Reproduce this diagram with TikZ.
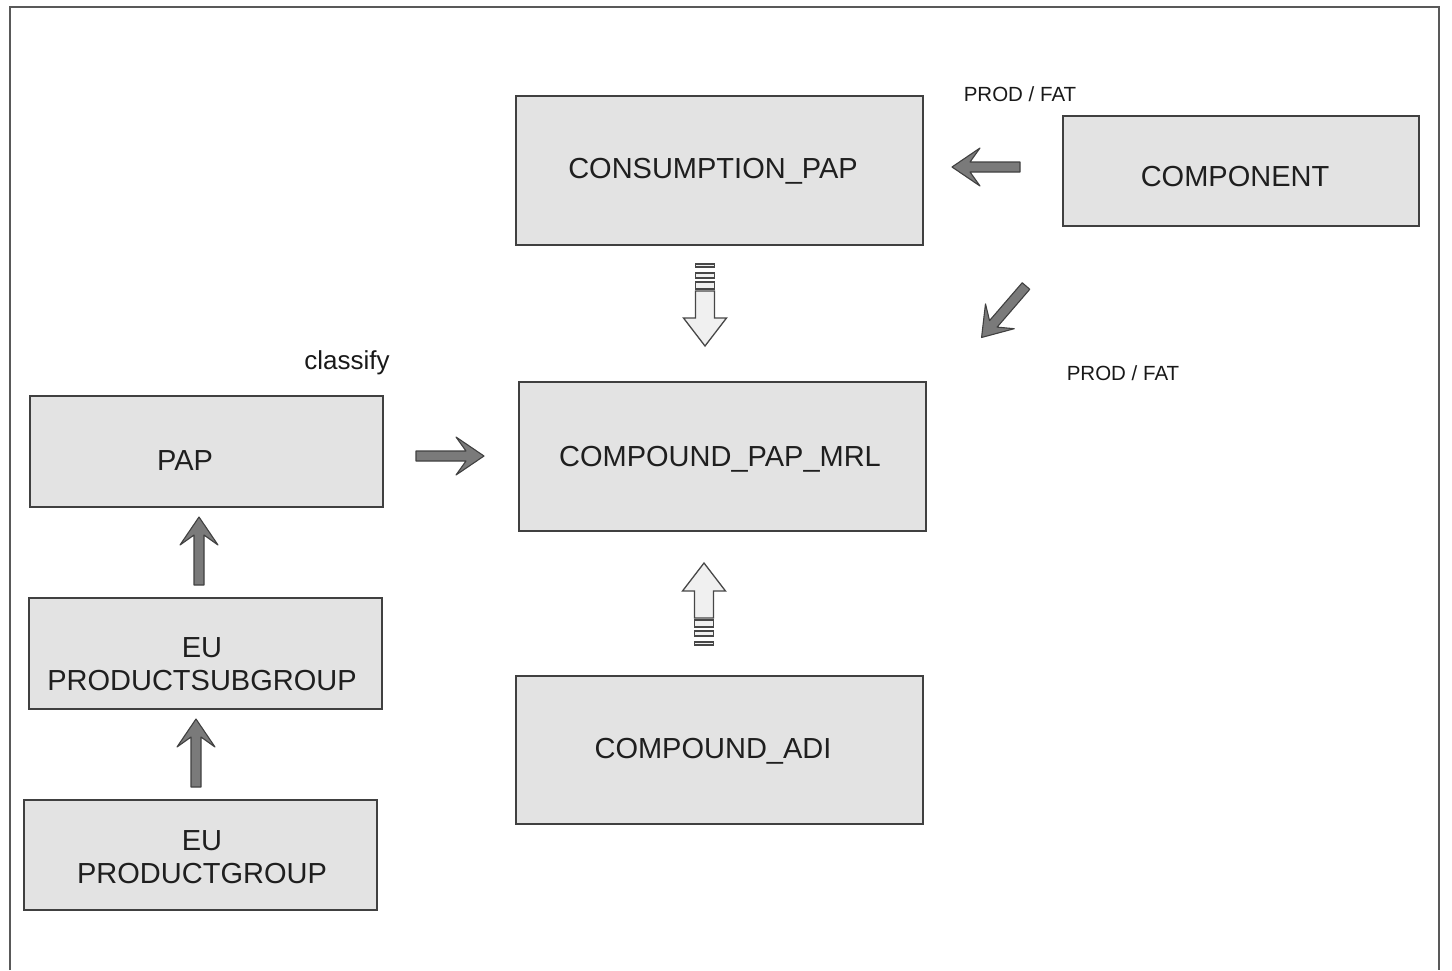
\documentclass[tikz,border=0pt]{standalone}
\usepackage{fontspec}
\setmainfont{Liberation Sans}
\begin{document}
\begin{tikzpicture}[x=1pt,y=-1pt,
  box/.style={draw=black!75,line width=1.4pt,fill=black!11,inner sep=0pt},
  boxtext/.style={anchor=base,text=black!88,font=\fontsize{29}{32}\selectfont,inner sep=0pt,align=center},
  smalltext/.style={anchor=base,text=black!90,font=\fontsize{20.5}{24}\selectfont,inner sep=0pt},
  midtext/.style={anchor=base,text=black!90,font=\fontsize{26}{30}\selectfont,inner sep=0pt},
  arrowsolid/.style={fill=black!52,draw=black!75,line width=1.1pt,line join=round},
  arrowhollow/.style={fill=black!6,draw=black!72,line width=1.3pt,line join=miter},
  pics/sarrow/.style={code={
    \path[arrowsolid] (0,-5) -- (50,-5) -- (40,-19) -- (68,0) -- (40,19) -- (50,5) -- (0,5) -- cycle;
  }},
  pics/harrow/.style={code={
    \path[arrowhollow] (0,-9.5) rectangle (3,9.5);
    \path[arrowhollow] (9,-9.5) rectangle (14,9.5);
    \path[arrowhollow] (18,-9.5) rectangle (25,9.5);
    \path[arrowhollow] (27,-9.5) -- (54,-9.5) -- (54,-21.5) -- (82,0) -- (54,21.5) -- (54,9.5) -- (27,9.5) -- cycle;
  }}
]
\useasboundingbox (0,0) rectangle (1452,970);
% frame
\coordinate (fbl) at (10,970);
\coordinate (ftl) at (10,7);
\coordinate (ftr) at (1439,7);
\coordinate (fbr) at (1439,970);
\draw[black!65,line width=1.8pt] (fbl) -- (ftl) -- (ftr) -- (fbr);

% boxes
\node[box,minimum width=407pt,minimum height=149pt] (cons) at (719.5,170.5) {};
\node[box,minimum width=356pt,minimum height=110pt] (comp) at (1241,171) {};
\node[box,minimum width=407pt,minimum height=149pt] (mrl) at (722.5,456.5) {};
\node[box,minimum width=353pt,minimum height=111pt] (pap) at (206.5,451.5) {};
\node[box,minimum width=353pt,minimum height=111pt] (sub) at (205.5,653.5) {};
\node[box,minimum width=353pt,minimum height=110pt] (grp) at (200.5,855) {};
\node[box,minimum width=407pt,minimum height=148pt] (adi) at (719.5,750) {};

% texts
\node[boxtext] (tcons) at (713,178) {CONSUMPTION\_PAP};
\node[boxtext] (tcomp) at (1235,186) {COMPONENT};
\node[boxtext] (tmrl) at (720,466) {COMPOUND\_PAP\_MRL};
\node[boxtext] (tpap) at (185,470) {PAP};
\node[boxtext] (tsub1) at (202,657) {EU};
\node[boxtext] (tsub2) at (202,690) {PRODUCTSUBGROUP};
\node[boxtext] (tgrp1) at (202,850) {EU};
\node[boxtext] (tgrp2) at (202,883) {PRODUCTGROUP};
\node[boxtext] (tadi) at (713,758) {COMPOUND\_ADI};
\node[smalltext] (pf1) at (1020,101) {PROD / FAT};
\node[smalltext] (pf2) at (1123,380) {PROD / FAT};
\node[midtext] (cls) at (347,369) {classify};

% solid arrows
\pic[shift={(1020,167)},rotate=180] {sarrow};
\pic[shift={(1026,286)},rotate=-130.8] {sarrow};
\pic[shift={(416,456)}] {sarrow};
\pic[shift={(199,585)},rotate=90] {sarrow};
\pic[shift={(196,787)},rotate=90] {sarrow};

% hollow striped arrows
\pic[shift={(705,264)},rotate=-90] {harrow};
\pic[shift={(704,645)},rotate=90] {harrow};
\end{tikzpicture}
\end{document}
